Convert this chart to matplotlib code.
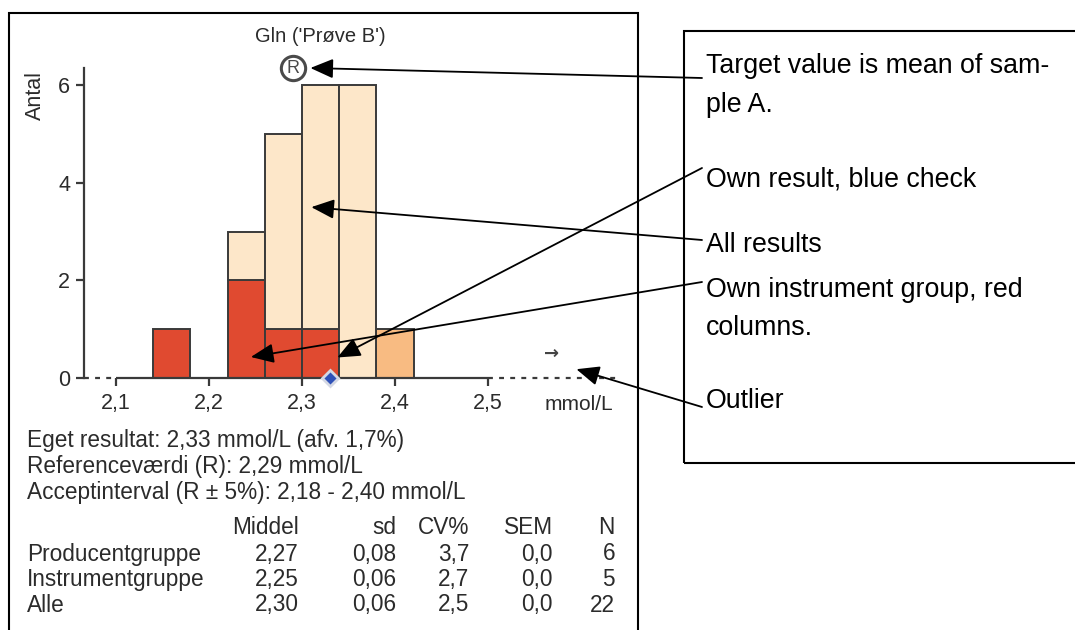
import matplotlib
matplotlib.use("Agg")
import matplotlib.pyplot as plt
from matplotlib.patches import Rectangle

plt.rcParams['font.family'] = ['Liberation Sans', 'DejaVu Sans']

W, H = 1075, 630

# histogram data (bin centres, mmol/L) and counts per group
bin_centres = [2.16, 2.24, 2.28, 2.32, 2.36, 2.40]
bin_width = 0.04
instrument_counts = [1, 2, 1, 1, 0, 0]   # own instrument group (red)
producer_extra = [0, 0, 0, 0, 0, 1]      # rest of producer group (orange)
other_counts = [0, 1, 4, 5, 6, 0]        # all other results (cream)

own_result = 2.33
reference_value = 2.29
outlier_pos = 2.568

x_ticks = [2.1, 2.2, 2.3, 2.4, 2.5]
x_tick_labels = ['2,1', '2,2', '2,3', '2,4', '2,5']
y_ticks = [0, 2, 4, 6]

info_lines = [
    'Eget resultat: 2,33 mmol/L (afv. 1,7%)',
    'Referenceværdi (R): 2,29 mmol/L',
    'Acceptinterval (R ± 5%): 2,18 - 2,40 mmol/L',
]
table_header = ['Middel', 'sd', 'CV%', 'SEM', 'N']
table_rows = ['Producentgruppe', 'Instrumentgruppe', 'Alle']
table_values = [
    ['2,27', '0,08', '3,7', '0,0', '6'],
    ['2,25', '0,06', '2,7', '0,0', '5'],
    ['2,30', '0,06', '2,5', '0,0', '22'],
]

# note lines and their baselines (pixels from top)
note_lines = [
    ('Target value is mean of sam-', 73),
    ('ple A.', 112),
    ('Own result, blue check', 186),
    ('All results', 252),
    ('Own instrument group, red', 297),
    ('columns.', 335),
    ('Outlier', 408),
]

RED = '#e04a30'
CREAM = '#fde7c9'
ORANGE = '#f8bb82'
EDGE = '#3a3a3a'
TXT = '#2b2b2b'
FS = 16.3


def fx(x):
    return x / W


def fy(y):
    return 1 - y / H


fig = plt.figure(figsize=(W / 100, H / 100), dpi=100)
ax = fig.add_axes([fx(84), fy(378), (620 - 84) / W, (378 - 68) / H])
ax.set_xlim(2.0656, 2.6419)
ax.set_ylim(0, 6.35)

bottom_other = [a + b for a, b in zip(instrument_counts, producer_extra)]
ax.bar(bin_centres, instrument_counts, width=bin_width, color=RED,
       edgecolor=EDGE, linewidth=1.4, zorder=2)
ax.bar(bin_centres, producer_extra, width=bin_width, bottom=instrument_counts,
       color=ORANGE, edgecolor=EDGE, linewidth=1.4, zorder=2)
ax.bar(bin_centres, other_counts, width=bin_width, bottom=bottom_other,
       color=CREAM, edgecolor=EDGE, linewidth=1.4, zorder=2)
# hide empty segments
for p in ax.patches:
    if p.get_height() == 0:
        p.set_visible(False)

# x axis line: solid inside tick range, dotted outside
x0, x1 = ax.get_xlim()
ax.plot([x_ticks[0], x_ticks[-1]], [0, 0], color=EDGE, lw=1.6,
        clip_on=False, zorder=3, solid_capstyle='butt')
ax.plot([x0, x_ticks[0]], [0, 0], color=EDGE, lw=1.6, ls=(0, (2.2, 2.8)),
        clip_on=False, zorder=3)
ax.plot([x_ticks[-1], x1], [0, 0], color=EDGE, lw=1.6, ls=(0, (2.2, 2.8)),
        clip_on=False, zorder=3)

for s in ['top', 'right', 'bottom']:
    ax.spines[s].set_visible(False)
ax.spines['left'].set_color(EDGE)
ax.spines['left'].set_linewidth(1.6)

ax.set_xticks(x_ticks)
ax.set_xticklabels(x_tick_labels)
ax.set_yticks(y_ticks)
ax.tick_params(axis='both', colors=EDGE, labelcolor=TXT, labelsize=15.5,
               width=1.6, length=6)
ax.tick_params(axis='x', pad=5)
ax.tick_params(axis='y', pad=4)

fig.text(fx(613), fy(404), 'mmol/L', ha='right', va='center', fontsize=15,
         color=TXT)

# own result diamond
ax.plot([own_result], [0], marker='D', ms=8.5, color='#2f51b8',
        mec='#d4d8e4', mew=2, clip_on=False, zorder=5)
# reference value symbol
ax.plot([reference_value], [6.35], marker='o', ms=17.5, mfc='white',
        mec='#4a4a4a', mew=2.2, clip_on=False, zorder=5)
ax.text(reference_value, 6.33, 'R', ha='center', va='center', fontsize=13,
        color='#4a4a4a', clip_on=False, zorder=6)
# outlier arrow
ax.text(outlier_pos, 0.5, '→', ha='center', va='center', fontsize=13,
        fontweight='bold', color='#444444', family=['DejaVu Sans'])

fig.text(fx(320), fy(36), "Gln ('Prøve B')", ha='center', va='center',
         fontsize=14.5, color=TXT)
fig.text(fx(35), fy(96), 'Antal', rotation=90, ha='center', va='center',
         fontsize=15.5, color=TXT)

for i, line in enumerate(info_lines):
    fig.text(fx(27), fy(441 + i * 25.5), line, ha='left', va='center',
             fontsize=FS, color=TXT)

col_right = [299, 396, 469, 553, 615]
for j, h in enumerate(table_header):
    fig.text(fx(col_right[j]), fy(528), h, ha='right', va='center',
             fontsize=FS, color=TXT)
for i, name in enumerate(table_rows):
    yy = 554 + i * 25.5
    fig.text(fx(27), fy(yy), name, ha='left', va='center', fontsize=FS,
             color=TXT)
    for j, v in enumerate(table_values[i]):
        fig.text(fx(col_right[j]), fy(yy), v, ha='right', va='center',
                 fontsize=FS, color=TXT)

# frames
fig.add_artist(Rectangle((fx(9), fy(650)), (638 - 9) / W, (650 - 13) / H,
                         transform=fig.transFigure, fill=False,
                         edgecolor='black', lw=1.5))
fig.add_artist(Rectangle((fx(684), fy(463)), (1090 - 684) / W, (463 - 31) / H,
                         transform=fig.transFigure, fill=False,
                         edgecolor='black', lw=1.5))

for text, base in note_lines:
    fig.text(fx(706), fy(base), text, ha='left', va='baseline', fontsize=19.3,
             color='black')

# leader arrows from notes to chart
arrow_props = dict(arrowstyle='-|>,head_length=0.7,head_width=0.3',
                   color='black', lw=1.3, shrinkA=0, shrinkB=0,
                   mutation_scale=20)
targets = [
    ((2.309, 6.35), (702, 78)),
    ((2.338, 0.42), (702, 168)),
    ((2.31, 3.5), (702, 240)),
    ((2.245, 0.43), (702, 282)),
    ((2.595, 0.18), (702, 407)),
]
for xy, (tx, ty) in targets:
    ax.annotate('', xy=xy, xytext=(tx, H - ty), textcoords='figure pixels',
                arrowprops=arrow_props, annotation_clip=False, zorder=7)

fig.savefig('out.png', dpi=100)
